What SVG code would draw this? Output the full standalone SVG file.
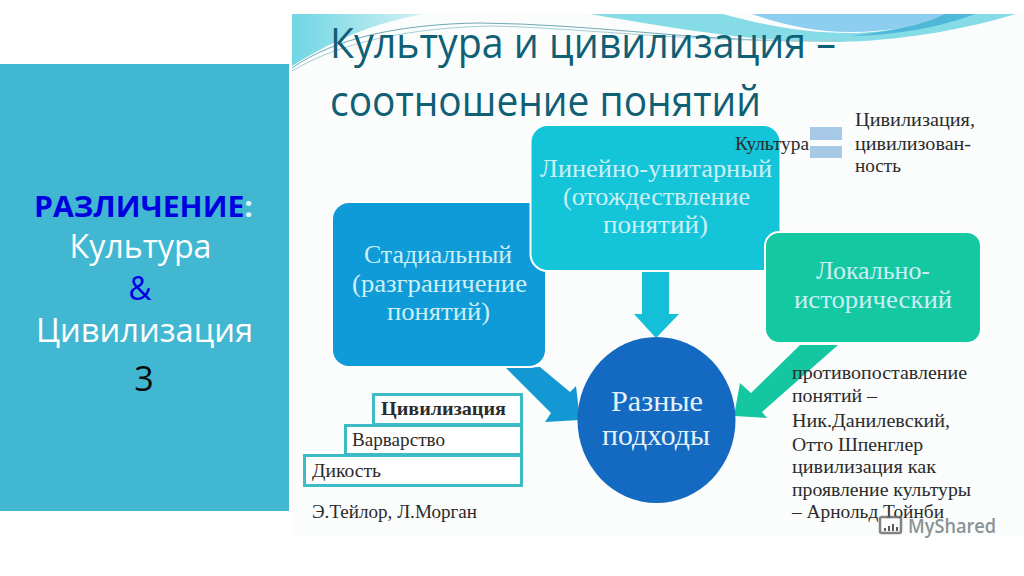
<svg xmlns="http://www.w3.org/2000/svg" width="1024" height="576" viewBox="0 0 1024 576">
<defs>
<linearGradient id="lw" x1="0" y1="0" x2="1" y2="0"><stop offset="0" stop-color="#6fd6e4"/><stop offset="1" stop-color="#d4f1f3"/></linearGradient>
</defs>
<style>
.t{font-family:"Open Sans","Noto Sans",sans-serif}
.s{font-family:"Liberation Serif","DejaVu Serif",serif}
.title{font-size:42px;fill:#0f6075}
.side{font-size:32px;fill:#fff;text-anchor:middle}
.node{font-size:26px;fill:#cdeff5;text-anchor:middle}
.center{font-size:30px;fill:#e4f1fa;text-anchor:middle}
.note{font-size:19px;fill:#2b2b2b}
.box{fill:#fff;stroke:#3dbcc8;stroke-width:3}
.card{stroke:#fff;stroke-width:2}
</style>
<rect width="1024" height="576" fill="#fff"/>
<rect x="292" y="14" width="732" height="522" fill="#fbfcfc"/>
<g id="waves">
<path d="M292 14H424C380 22 340 36 292 66Z" fill="url(#lw)"/>
<path d="M590 14H723C760 24 800 33 850 33C890 33 920 24 945 14H1016C950 34 880 42 830 42C750 42 660 26 590 14Z" fill="#85dbe6"/>
<path d="M752 14H962C930 24 890 32 850 32C815 32 780 24 752 14Z" fill="#8ccdf0"/>
<path d="M945 14H975C940 27 900 35 850 36C900 30 925 24 945 14Z" fill="#4fb8d8"/>
<path d="M292 68C335 38 400 24 480 23C590 24 700 41 800 41" fill="none" stroke="#6fa9b3" stroke-width="1"/>
<path d="M292 71C340 42 410 28 490 26C590 28 700 44 840 40" fill="none" stroke="#a5cdd3" stroke-width="1"/>
</g>
<g id="side-panel">
<rect x="0" y="64" width="289" height="447" fill="#41b7d2"/>
<text x="143.500" y="217" style="font-family:'Open Sans','Noto Sans',sans-serif;font-size:29px;font-weight:700;text-anchor:middle" fill="#0000e0" textLength="219" lengthAdjust="spacingAndGlyphs">РАЗЛИЧЕНИЕ<tspan fill="#dff4f8">:</tspan></text>
<text class="t side" x="140.500" y="258" textLength="142" lengthAdjust="spacingAndGlyphs">Культура</text>
<text class="t side" x="140" y="300" style="fill:#0000e0" textLength="23" lengthAdjust="spacingAndGlyphs">&amp;</text>
<text class="t side" x="144.500" y="342" textLength="217" lengthAdjust="spacingAndGlyphs">Цивилизация</text>
<text class="t side" x="144" y="391" style="fill:#0a0a0a;font-size:34px">3</text>
</g>
<g id="title">
<text class="t title" x="330" y="58" textLength="506" lengthAdjust="spacingAndGlyphs">Культура и цивилизация –</text>
<text class="t title" x="330" y="116" textLength="431" lengthAdjust="spacingAndGlyphs">соотношение понятий</text>
</g>
<g id="connectors">
<polygon points="506,368 540,367 570,392 576,386 580,420 545,422 551,413" fill="#1498d4"/>
<polygon points="642,272 669,272 669,314 679,314 656,338 634,314 642,314" fill="#14c0d8"/>
<polygon points="800,345 838,345 762,412 767,418 734,416 740,383 751,393" fill="#14c7a0"/>
</g>
<g id="node-stadial">
<rect x="332" y="202" width="214" height="165" rx="17" fill="#0f9bd7" class="card"/>
<text class="s node" x="438" y="263" textLength="148" lengthAdjust="spacingAndGlyphs">Стадиальный</text>
<text class="s node" x="439.500" y="292" textLength="175" lengthAdjust="spacingAndGlyphs">(разграничение</text>
<text class="s node" x="438.500" y="320" textLength="103" lengthAdjust="spacingAndGlyphs">понятий)</text>
</g>
<g id="node-linear">
<rect x="530.500" y="125" width="250" height="146" rx="17" fill="#14c5d9" class="card"/>
<text class="s node" x="656" y="177" textLength="232" lengthAdjust="spacingAndGlyphs">Линейно-унитарный</text>
<text class="s node" x="656.500" y="205" textLength="187" lengthAdjust="spacingAndGlyphs">(отождествление</text>
<text class="s node" x="655.500" y="233" textLength="105" lengthAdjust="spacingAndGlyphs">понятий)</text>
</g>
<g id="node-local">
<rect x="765" y="232" width="216" height="111" rx="14" fill="#14c8a2" class="card"/>
<text class="s node" x="873" y="279" textLength="114" lengthAdjust="spacingAndGlyphs">Локально-</text>
<text class="s node" x="873" y="308" textLength="158" lengthAdjust="spacingAndGlyphs">исторический</text>
</g>
<g id="node-center">
<ellipse cx="656.500" cy="420" rx="79" ry="83" fill="#1469c0"/>
<text class="s center" x="657" y="411" textLength="92" lengthAdjust="spacingAndGlyphs">Разные</text>
<text class="s center" x="656" y="445" textLength="108" lengthAdjust="spacingAndGlyphs">подходы</text>
</g>
<g id="equals">
<rect x="810" y="127" width="32" height="13" fill="#a8c8e8"/>
<rect x="810" y="146" width="32" height="12" fill="#a8c8e8"/>
<text class="s note" x="735" y="150" textLength="74" lengthAdjust="spacingAndGlyphs">Культура</text>
<text class="s note" x="855" y="126" textLength="120" lengthAdjust="spacingAndGlyphs">Цивилизация,</text>
<text class="s note" x="855" y="150" textLength="116" lengthAdjust="spacingAndGlyphs">цивилизован-</text>
<text class="s note" x="855" y="172" textLength="46" lengthAdjust="spacingAndGlyphs">ность</text>
</g>
<g id="step-civilization">
<rect x="373.500" y="394.500" width="148" height="30" class="box"/>
<text class="s note" x="381" y="415" style="font-weight:700" textLength="125" lengthAdjust="spacingAndGlyphs">Цивилизация</text>
</g>
<g id="step-barbarism">
<rect x="345.500" y="425.500" width="176" height="29" class="box"/>
<text class="s note" x="352" y="446" textLength="93" lengthAdjust="spacingAndGlyphs">Варварство</text>
</g>
<g id="step-savagery">
<rect x="304.500" y="455.500" width="217" height="30" class="box"/>
<text class="s note" x="312" y="477" textLength="69" lengthAdjust="spacingAndGlyphs">Дикость</text>
</g>
<text class="s note" x="312" y="518" textLength="165" lengthAdjust="spacingAndGlyphs">Э.Тейлор, Л.Морган</text>
<g id="notes">
<text class="s note" x="792" y="379" textLength="175" lengthAdjust="spacingAndGlyphs">противопоставление</text>
<text class="s note" x="792" y="402" textLength="85" lengthAdjust="spacingAndGlyphs">понятий –</text>
<text class="s note" x="792" y="427" textLength="158" lengthAdjust="spacingAndGlyphs">Ник.Данилевский,</text>
<text class="s note" x="792" y="451" textLength="131" lengthAdjust="spacingAndGlyphs">Отто Шпенглер</text>
<text class="s note" x="792" y="473" textLength="144" lengthAdjust="spacingAndGlyphs">цивилизация как</text>
<text class="s note" x="792" y="496" textLength="179" lengthAdjust="spacingAndGlyphs">проявление культуры</text>
<text class="s note" x="792" y="518" textLength="152" lengthAdjust="spacingAndGlyphs">– Арнольд Тойнби</text>
</g>
<g id="watermark" opacity=".8">
<rect x="880" y="517" width="21" height="16" rx="2" fill="none" stroke="#666" stroke-width="2.500"/>
<path d="M885 531v-3M889 531v-5M893 531v-7M897 531v-4" stroke="#333" stroke-width="2"/>
<text x="908" y="533" style="font-family:'Open Sans',sans-serif;font-size:20px;font-weight:600;fill:#6d7a7a" textLength="88" lengthAdjust="spacingAndGlyphs">MyShared</text>
</g>
</svg>
